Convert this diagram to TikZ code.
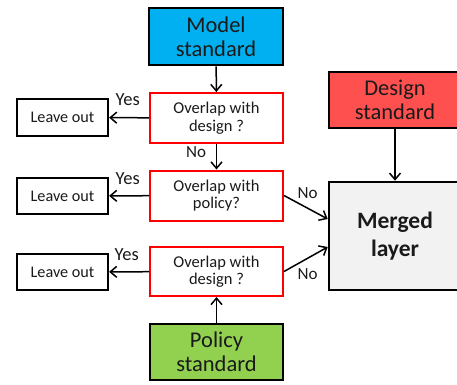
\documentclass[tikz,border=0pt]{standalone}
\usepackage{fontspec}
\setmainfont{Carlito}
\usetikzlibrary{arrows.meta,calc}
\definecolor{modelc}{HTML}{00B0F0}
\definecolor{designc}{HTML}{FF5050}
\definecolor{policyc}{HTML}{92D050}
\definecolor{mergedc}{HTML}{F2F2F2}
\definecolor{txt}{HTML}{1A1A1A}
\begin{document}
\begin{tikzpicture}[x=1pt,y=-1pt,
  stdbox/.style={draw=black,line width=2.6pt,align=center,inner sep=0pt,
    font=\fontsize{22.5}{24}\selectfont,text=txt},
  qbox/.style={draw=red,line width=2pt,fill=white,align=center,inner sep=0pt,
    minimum width=133pt,minimum height=50pt,font=\fontsize{16.5}{17.5}\selectfont,text=txt},
  outbox/.style={draw=black,line width=2.2pt,align=center,inner sep=0pt,
    minimum width=91pt,minimum height=36pt,font=\fontsize{16.2}{18}\selectfont,text=txt},
  lbl/.style={font=\fontsize{17}{18}\selectfont,text=txt,inner sep=0pt},
  yes/.style={lbl,font=\fontsize{18.5}{18}\selectfont},
  arr/.style={draw=black,line width=1.5pt,-{Straight Barb[length=6.5pt,width=11pt,line width=1.5pt]}}
]
\useasboundingbox (0,0) rectangle (457,384);
\node[stdbox,fill=modelc,minimum width=134pt,minimum height=57pt] (model) at (216,36.5) {Model\\standard};
\node[qbox] (q1) at (216.5,118) {Overlap with\\design ?};
\node[qbox] (q2) at (216.5,195.5) {Overlap with\\policy?};
\node[qbox,minimum height=49pt] (q3) at (216.5,271.5) {Overlap with\\design ?};
\node[outbox,minimum height=37pt] (l1) at (62.5,117.5) {Leave out};
\node[outbox] (l2) at (62.5,196) {Leave out};
\node[outbox] (l3) at (62.5,272) {Leave out};
\node[stdbox,fill=policyc,minimum width=133pt,minimum height=56pt] (policy) at (216.5,352) {Policy\\standard};
\node[stdbox,fill=designc,minimum width=132pt,minimum height=56pt] (design) at (395,100) {Design\\standard};
\node[stdbox,fill=mergedc,minimum width=132pt,minimum height=108pt,font=\fontsize{23.5}{28}\selectfont\bfseries] (merged) at (395,236) {Merged\\layer};
\draw[arr] (model) -- (q1);
\draw[arr] (q1) -- (q2);
\draw[arr] (q1) -- (l1);
\draw[arr] (q2) -- (l2);
\draw[arr] (q3) -- (l3);
\draw[arr] (policy) -- (q3);
\draw[arr] (design) -- (merged);
\draw[arr] (q2.east) -- ([yshift=17pt]merged.west);
\draw[arr] (q3.east) -- ([yshift=-11pt]merged.west);
\node[yes,anchor=base] (y1) at (127.7,105) {Yes};
\node[yes,anchor=base] (y2) at (127.7,184) {Yes};
\node[yes,anchor=base] (y3) at (126.7,260.5) {Yes};
\node[lbl,anchor=base] (n1) at (196,157.5) {No};
\node[lbl,anchor=base] (n2) at (307.5,198.3) {No};
\node[lbl,anchor=base] (n3) at (307.5,279) {No};
\end{tikzpicture}
\end{document}
